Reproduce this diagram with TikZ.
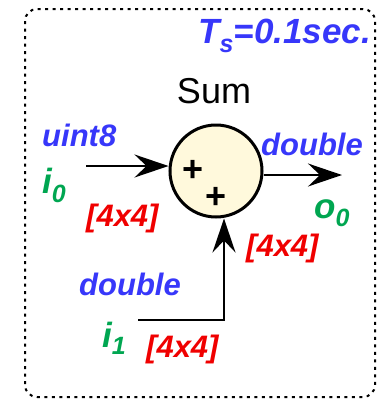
\documentclass[tikz,border=0pt]{standalone}
\usepackage{fontspec}
\setmainfont{Liberation Sans}
\usetikzlibrary{positioning,arrows.meta}

\definecolor{typeblue}{RGB}{55,55,250}
\definecolor{portgreen}{RGB}{0,166,81}
\definecolor{dimred}{RGB}{240,0,0}
\definecolor{sumfill}{RGB}{255,249,220}

\begin{document}
\begin{tikzpicture}[x=1bp, y=-1bp,
    lbl/.style={inner sep=0pt, font=\fontsize{31bp}{31bp}\selectfont\bfseries\itshape},
    typelbl/.style={lbl, text=typeblue},
    dimlbl/.style={lbl, text=dimred},
    portlbl/.style={lbl, text=portgreen, font=\fontsize{35bp}{35bp}\selectfont\bfseries\itshape},
    plus/.style={inner sep=0pt, font=\fontsize{36bp}{36bp}\selectfont\bfseries},
    sig/.style={line width=2bp, -{Stealth[length=34bp, width=23bp, inset=12bp]}}]
    \useasboundingbox (0,0) rectangle (377,400);

    % Frame and sample time
    \draw[line width=2bp, dash pattern=on 3bp off 4.5bp, rounded corners=12bp] (25,9) rectangle (375,397);
    \node[lbl, text=typeblue, anchor=base east, font=\fontsize{35bp}{35bp}\selectfont\bfseries\itshape] (Ts) at (371,43)
        {T\raisebox{-9bp}{\fontsize{25bp}{25bp}\selectfont s}=0.1sec.};

    % Sum block
    \node[circle, draw, line width=3bp, fill=sumfill, minimum size=92bp, inner sep=0pt] (Sum) at (216,171) {};
    \node[inner sep=0pt, anchor=base, font=\fontsize{36bp}{36bp}\selectfont] (SumName) at (214,103) {Sum};
    \node[plus] (PlusA) at (193,171) {+};
    \node[plus] (PlusB) at (216,198) {+};

    % Ports
    \coordinate (In0) at (86,166);
    \coordinate (Out0) at (342,175);
    \coordinate (In1) at (138,320);
    \draw[sig] (In0) -- (In0 -| Sum.west);
    \draw[sig] (Sum.east |- Out0) -- (Out0);
    \draw[sig] (In1) -| ([xshift=8bp]Sum.south);

    % Labels
    \node[typelbl, anchor=base west] (TypeIn0) at (42,146) {uint8};
    \node[portlbl, anchor=base west] (NameIn0) at (42,193) {i\raisebox{-9bp}{\fontsize{25bp}{25bp}\selectfont 0}};
    \node[dimlbl, anchor=base west] (DimIn0) at (86,226) {[4x4]};

    \node[typelbl, anchor=base west] (TypeOut0) at (261,155) {double};
    \node[portlbl, anchor=base west] (NameOut0) at (314,218) {o\raisebox{-8bp}{\fontsize{25bp}{25bp}\selectfont 0}};
    \node[dimlbl, anchor=base west] (DimOut0) at (246,256) {[4x4]};

    \node[typelbl, anchor=base west] (TypeIn1) at (79,295) {double};
    \node[portlbl, anchor=base west] (NameIn1) at (102,347) {i\raisebox{-7bp}{\fontsize{25bp}{25bp}\selectfont 1}};
    \node[dimlbl, anchor=base west] (DimIn1) at (146,357) {[4x4]};
\end{tikzpicture}
\end{document}
